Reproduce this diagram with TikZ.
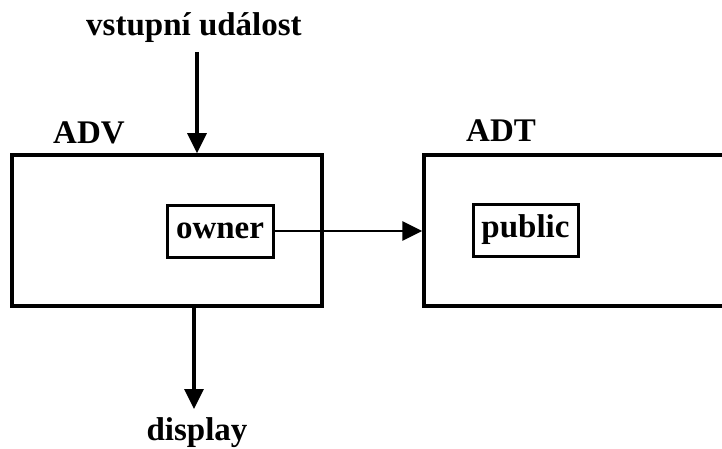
\documentclass[tikz,border=0pt]{standalone}
\usepackage{fontspec}
\setmainfont{Liberation Serif}
\usetikzlibrary{arrows.meta}

\tikzset{
    box/.style={draw, line width=3.5pt, inner sep=0pt},
    tag/.style={font=\fontsize{33}{38}\selectfont\bfseries, inner sep=0pt},
    flow/.style={line width=3.4pt, -{Triangle[length=20pt,width=19pt]}}
}

\begin{document}
\begin{tikzpicture}[x=1pt,y=-1pt]
    \useasboundingbox[fill=white] (0,0) rectangle (722,449);
    %the two modules
    \node[box, minimum width=310pt, minimum height=151pt] (adv) at (167,230.5) {};
    \node[box, minimum width=330pt, minimum height=151pt] (adt) at (589,230.5) {};
    \node[tag, anchor=south west] (advname) at (53,144) {ADV};
    \node[tag, anchor=south west] (adtname) at (466,142) {ADT};
    %inner parts
    \node[box, line width=3pt, tag, minimum width=106pt, minimum height=52pt] (owner) at (220,231) {owner};
    \node[box, line width=3pt, tag, minimum width=105pt, minimum height=52pt] (public) at (525.5,230) {public};
    %input and output
    \node[tag] (input) at (194,28) {vstupní událost};
    \coordinate (intop) at (197,52);
    \node[tag] (display) at (197,433) {display};
    \coordinate (outtop) at (194,306);
    \draw[flow] (intop) -- (intop |- adv.north);
    \draw[flow] (outtop) -- (194,409);
    \draw[flow, line width=2.8pt] (owner.east) -- (owner.east -| adt.west);
\end{tikzpicture}
\end{document}
